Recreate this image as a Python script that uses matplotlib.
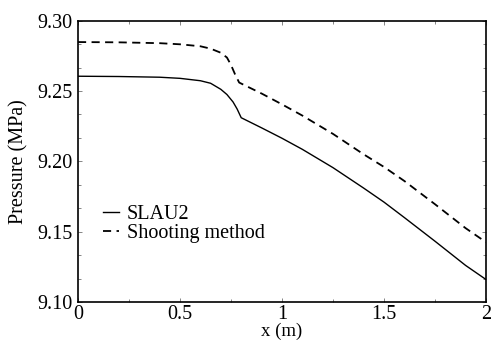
import matplotlib
matplotlib.use("Agg")
import matplotlib.pyplot as plt
from matplotlib.ticker import AutoMinorLocator

# Data
x_slau2 = [0.0, 0.2, 0.4, 0.5, 0.6, 0.65, 0.7, 0.73, 0.76, 0.78, 0.8,
           0.9, 1.0, 1.1, 1.25, 1.4, 1.5, 1.6, 1.75, 1.9, 2.0]
p_slau2 = [9.2605, 9.2603, 9.2598, 9.2590, 9.2573, 9.2555, 9.2512, 9.2475,
           9.2422, 9.2372, 9.2310, 9.2238, 9.2164, 9.2085, 9.1955, 9.1810,
           9.1710, 9.1600, 9.1432, 9.1260, 9.1160]

x_shoot = [0.0, 0.2, 0.4, 0.5, 0.6, 0.65, 0.7, 0.73, 0.75, 0.77, 0.79,
           0.9, 1.0, 1.1, 1.25, 1.4, 1.5, 1.6, 1.75, 1.9, 2.0]
p_shoot = [9.2848, 9.2846, 9.2840, 9.2832, 9.2818, 9.2801, 9.2772, 9.2738,
           9.2685, 9.2618, 9.2560, 9.2482, 9.2405, 9.2325, 9.2195, 9.2050,
           9.1960, 9.1860, 9.1695, 9.1525, 9.1425]

series_labels = ["SLAU2", "Shooting method"]
x_label = "x (m)"
y_label = "Pressure (MPa)"
x_ticks = [0, 0.5, 1, 1.5, 2]
x_tick_labels = ['0', '0.5', '1', '1.5', '2']
y_ticks = [9.10, 9.15, 9.20, 9.25, 9.30]
y_tick_labels = ['9.10', '9.15', '9.20', '9.25', '9.30']

plt.rcParams['font.family'] = ['Liberation Serif', 'DejaVu Serif']

fig = plt.figure(figsize=(4.91, 3.40), dpi=100)
ax = fig.add_axes([0.1589, 0.1118, 0.8309, 0.8274])

ax.plot(x_slau2, p_slau2, color='black', lw=1.0, ls='-', label=series_labels[0])
ax.plot(x_shoot, p_shoot, color='black', lw=1.3, ls=(0, (4.5, 3)), label=series_labels[1])

ax.set_xlim(0, 2)
ax.set_ylim(9.10, 9.30)
ax.set_xticks(x_ticks)
ax.set_xticklabels(x_tick_labels)
ax.set_yticks(y_ticks)
ax.set_yticklabels(y_tick_labels)
ax.xaxis.set_minor_locator(AutoMinorLocator(2))
ax.yaxis.set_minor_locator(AutoMinorLocator(3))

ax.tick_params(which='both', direction='in', top=True, right=True,
               labelsize=14.5, width=0.5, color='#555555')
ax.tick_params(which='major', length=3)
ax.tick_params(axis='y', which='major', pad=4)
ax.tick_params(axis='x', which='major', pad=2)
ax.tick_params(which='minor', length=2)
for s in ax.spines.values():
    s.set_linewidth(1.2)

ax.set_xlabel(x_label, fontsize=13.5, labelpad=-1)
ax.set_ylabel(y_label, fontsize=14.5, labelpad=6)

leg = ax.legend(loc='upper left', bbox_to_anchor=(0.061, 0.345), frameon=False,
                fontsize=14.5, handlelength=0.8, handletextpad=0.4,
                labelspacing=0.0, borderaxespad=0, borderpad=0)

fig.savefig('out.png', dpi=100)
